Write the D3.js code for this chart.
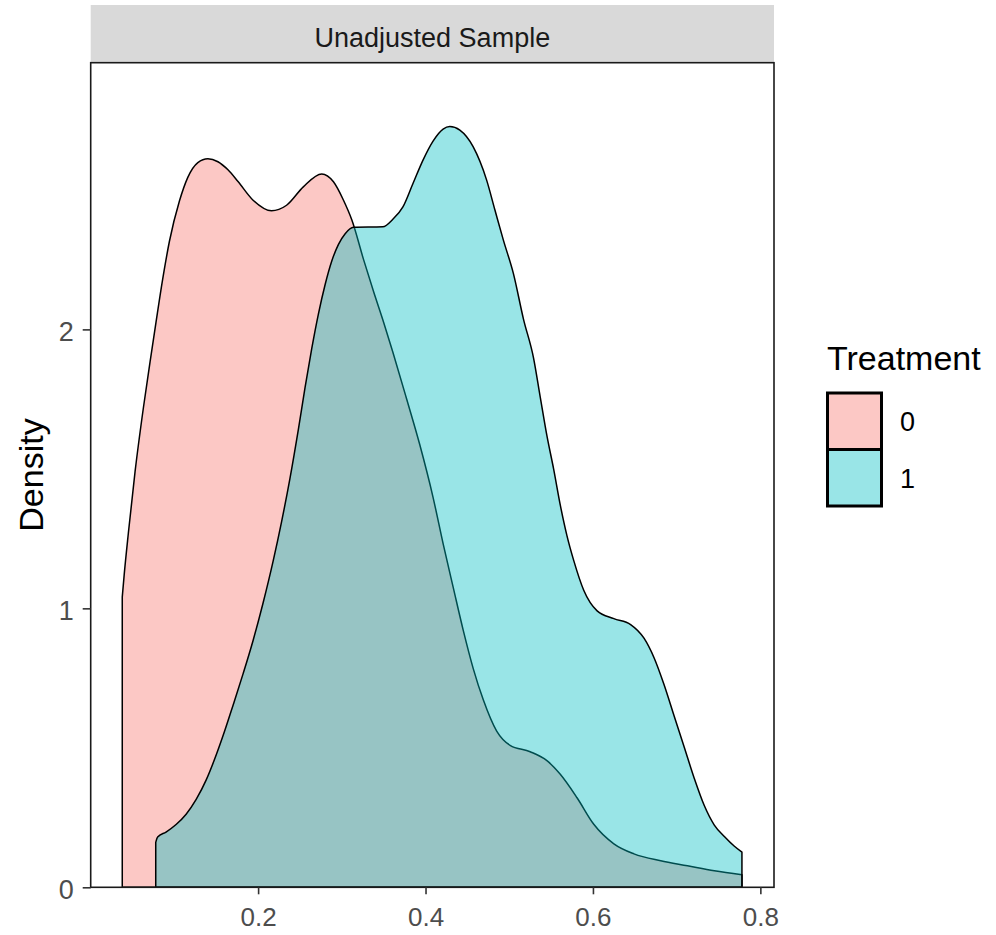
<!DOCTYPE html>
<html>
<head>
<meta charset="utf-8">
<script src="https://cdn.jsdelivr.net/npm/d3@7/dist/d3.min.js"></script>
<style>
  html, body { margin: 0; padding: 0; background: #ffffff; }
  svg { display: block; font-family: "Liberation Sans", Arial, sans-serif; }
</style>
</head>
<body>
<svg id="chart" width="996" height="935"></svg>
<script>
// Kernel density estimates of the propensity score, by treatment group
const groups = ["0", "1"];
const groupColors = ["#F8766D", "#00BFC4"];

const treat0X = [0.0377, 0.040, 0.045, 0.053, 0.063, 0.071, 0.078, 0.086, 0.094, 0.106,
  0.116, 0.128, 0.140, 0.152, 0.164, 0.176, 0.194, 0.216, 0.234, 0.254,
  0.276, 0.290, 0.302, 0.312, 0.326, 0.338, 0.350, 0.361, 0.377, 0.393,
  0.409, 0.421, 0.433, 0.445, 0.457, 0.469, 0.485, 0.501, 0.525, 0.545,
  0.561, 0.581, 0.601, 0.625, 0.649, 0.681, 0.713, 0.745, 0.778];
const treat0Density = [1.04, 1.12, 1.27, 1.49, 1.72, 1.885, 2.025, 2.18, 2.315, 2.46,
  2.545, 2.598, 2.612, 2.601, 2.572, 2.530, 2.463, 2.425, 2.445, 2.511,
  2.557, 2.529, 2.463, 2.392, 2.250, 2.135, 2.025, 1.918, 1.755, 1.588,
  1.398, 1.232, 1.076, 0.922, 0.784, 0.672, 0.560, 0.509, 0.486, 0.454,
  0.405, 0.321, 0.226, 0.156, 0.120, 0.095, 0.077, 0.059, 0.045];

const treat1X = [0.0777, 0.080, 0.090, 0.102, 0.114, 0.126, 0.138, 0.150, 0.160, 0.170,
  0.182, 0.194, 0.206, 0.218, 0.228, 0.238, 0.248, 0.256, 0.264, 0.272,
  0.280, 0.288, 0.296, 0.304, 0.314, 0.349, 0.361, 0.373, 0.385, 0.397,
  0.409, 0.421, 0.429, 0.441, 0.457, 0.473, 0.483, 0.493, 0.505, 0.517,
  0.529, 0.537, 0.545, 0.553, 0.561, 0.569, 0.577, 0.589, 0.605, 0.625,
  0.645, 0.661, 0.673, 0.685, 0.697, 0.709, 0.721, 0.733, 0.745, 0.757,
  0.769, 0.778];
const treat1Density = [0.161, 0.180, 0.198, 0.225, 0.262, 0.315, 0.385, 0.475, 0.560, 0.652,
  0.765, 0.885, 1.020, 1.170, 1.310, 1.465, 1.640, 1.790, 1.930, 2.055,
  2.160, 2.245, 2.305, 2.343, 2.366, 2.368, 2.395, 2.439, 2.523, 2.607,
  2.675, 2.718, 2.727, 2.714, 2.654, 2.535, 2.427, 2.320, 2.200, 2.037,
  1.898, 1.758, 1.619, 1.500, 1.370, 1.260, 1.172, 1.065, 0.991, 0.963,
  0.942, 0.893, 0.823, 0.726, 0.614, 0.503, 0.391, 0.293, 0.223, 0.182,
  0.147, 0.126];

const xTicks = [0.2, 0.4, 0.6, 0.8];
const yTicks = [0, 1, 2];

const stripLabel = "Unadjusted Sample";
const yLabel = "Density";
const legendTitle = "Treatment";

// Panel geometry
const panel = { left: 90.7, right: 774, top: 62.7, bottom: 887.3 };
const strip = { top: 5, bottom: 62.7 };

const svg = d3.select("#chart");

const x = d3.scaleLinear().domain([0, 0.8163]).range([panel.left, panel.right]);
const y = d3.scaleLinear().domain([0, 2.956]).range([panel.bottom, panel.top]);

// Strip header
svg.append("rect")
  .attr("x", panel.left).attr("y", strip.top)
  .attr("width", panel.right - panel.left).attr("height", strip.bottom - strip.top)
  .attr("fill", "#D9D9D9");
svg.append("text")
  .attr("x", (panel.left + panel.right) / 2).attr("y", 47)
  .attr("text-anchor", "middle")
  .attr("font-size", 27).attr("fill", "#1A1A1A")
  .text(stripLabel);

// Density areas
const series = [
  { key: groups[0], xs: treat0X, ds: treat0Density, color: groupColors[0] },
  { key: groups[1], xs: treat1X, ds: treat1Density, color: groupColors[1] }
];

const area = d3.area()
  .x(d => x(d[0]))
  .y0(y(0))
  .y1(d => y(d[1]))
  .curve(d3.curveMonotoneX);

const plot = svg.append("g");
series.forEach(s => {
  const pts = s.xs.map((v, i) => [v, s.ds[i]]);
  plot.append("path")
    .datum(pts)
    .attr("d", area)
    .attr("fill", s.color)
    .attr("fill-opacity", 0.4)
    .attr("stroke", "#000")
    .attr("stroke-width", 1.5)
    .attr("stroke-linejoin", "round");
});

// Panel border
svg.append("rect")
  .attr("x", panel.left).attr("y", panel.top)
  .attr("width", panel.right - panel.left).attr("height", panel.bottom - panel.top)
  .attr("fill", "none").attr("stroke", "#1A1A1A").attr("stroke-width", 1.6);

// Axes
const xAxis = d3.axisBottom(x).tickValues(xTicks).tickSize(7).tickPadding(13)
  .tickFormat(d3.format(".1f"));
const gx = svg.append("g").attr("transform", `translate(0,${panel.bottom})`).call(xAxis);
gx.select(".domain").remove();
gx.selectAll(".tick line").attr("stroke", "#333").attr("stroke-width", 1.6);
gx.selectAll(".tick text").attr("font-size", 26).attr("fill", "#4D4D4D")
  .attr("font-family", "Liberation Sans, Arial, sans-serif");

const yAxis = d3.axisLeft(y).tickValues(yTicks).tickSize(8).tickPadding(9)
  .tickFormat(d3.format("d"));
const gy = svg.append("g").attr("transform", `translate(${panel.left},0)`).call(yAxis);
gy.select(".domain").remove();
gy.selectAll(".tick line").attr("stroke", "#333").attr("stroke-width", 1.6);
gy.selectAll(".tick text").attr("font-size", 27).attr("fill", "#4D4D4D")
  .attr("dy", "0.42em")
  .attr("font-family", "Liberation Sans, Arial, sans-serif");

// Axis title
const midY = (panel.top + panel.bottom) / 2;
svg.append("text")
  .attr("transform", `translate(43,${midY}) rotate(-90)`)
  .attr("text-anchor", "middle")
  .attr("font-size", 34).attr("fill", "#000")
  .text(yLabel);

// Legend
const legend = svg.append("g");
legend.append("text")
  .attr("x", 827).attr("y", 370)
  .attr("font-size", 34).attr("fill", "#000")
  .text(legendTitle);
const keyX = 827.5, keyY0 = 393, keyW = 54, keyH = 56.5;
groups.forEach((g, i) => {
  legend.append("rect")
    .attr("x", keyX).attr("y", keyY0 + i * keyH)
    .attr("width", keyW).attr("height", keyH)
    .attr("fill", groupColors[i]).attr("fill-opacity", 0.4)
    .attr("stroke", "#000").attr("stroke-width", 3);
  legend.append("text")
    .attr("x", 900).attr("y", keyY0 + i * keyH + keyH / 2 + 10)
    .attr("font-size", 27).attr("fill", "#000")
    .text(g);
});
</script>
</body>
</html>
